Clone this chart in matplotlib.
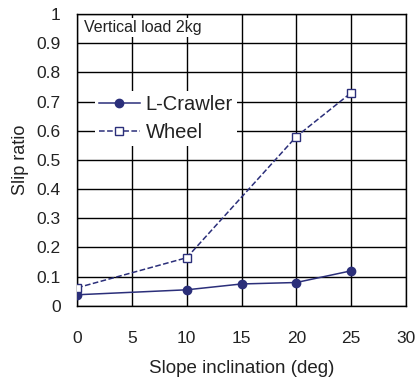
import matplotlib.pyplot as plt

plt.rcParams['font.family'] = ['Liberation Sans', 'DejaVu Sans']

# data
crawler_x = [0, 10, 15, 20, 25]
crawler_y = [0.038, 0.055, 0.075, 0.08, 0.12]
wheel_x = [0, 10, 20, 25]
wheel_y = [0.062, 0.165, 0.58, 0.73]

navy = "#2b2f7a"

fig = plt.figure(figsize=(4.15, 3.79), dpi=100)
ax = fig.add_axes([0.186, 0.193, 0.792, 0.77])

ax.plot(crawler_x, crawler_y, "-", color=navy, lw=1.1, marker="o", ms=6,
        label="L-Crawler", zorder=3)
ax.plot(wheel_x, wheel_y, "--", color=navy, lw=1.1, marker="s", ms=5.5,
        mfc="white", mew=1.0, label="Wheel", zorder=3)

ax.set_xlim(0, 30)
ax.set_ylim(0, 1)
ax.set_xticks(range(0, 31, 5))
ax.set_yticks([i / 10 for i in range(11)])
ax.set_yticklabels(["0", "0.1", "0.2", "0.3", "0.4", "0.5", "0.6", "0.7",
                    "0.8", "0.9", "1"])
ax.grid(True, color="black", lw=1.0)
ax.tick_params(length=0, labelsize=12.5, labelcolor="#222222")
ax.tick_params(axis="x", pad=18)
ax.tick_params(axis="y", pad=12)
for s in ax.spines.values():
    s.set_color("black")
    s.set_linewidth(1.0)

ax.set_xlabel("Slope inclination (deg)", fontsize=13.5, labelpad=10,
              color="#222222")
ax.set_ylabel("Slip ratio", fontsize=13, labelpad=5, color="#222222")

ax.text(0.6, 0.955, "Vertical load 2kg", fontsize=11.5, va="center", ha="left",
        color="#222222",
        bbox=dict(facecolor="white", edgecolor="none", pad=1.5), zorder=4)

leg = ax.legend(loc="upper left", bbox_to_anchor=(0.055, 0.735), frameon=True,
                fontsize=14.5, handlelength=2.0, borderpad=0.2, labelspacing=0.45,
                handletextpad=0.3, borderaxespad=0)
leg.get_frame().set_edgecolor("none")
leg.get_frame().set_facecolor("white")
leg.get_frame().set_alpha(1)
for t in leg.get_texts():
    t.set_color("#222222")

fig.savefig("out.png", dpi=100)
